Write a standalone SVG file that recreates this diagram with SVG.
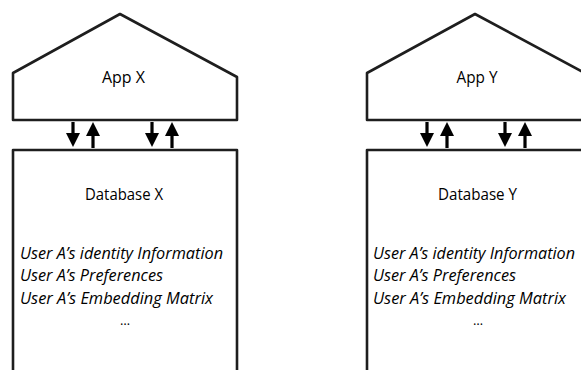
<svg xmlns="http://www.w3.org/2000/svg" width="581" height="370" viewBox="0 0 581 370">
<style>
.shape{fill:#fff;stroke:#1e1e1e;stroke-width:2.6;stroke-linejoin:round}
.t{font-family:"Open Sans","Noto Sans",sans-serif;font-size:16.5px;fill:#000}
.i{font-family:"Open Sans","Noto Sans",sans-serif;font-size:15.5px;font-style:italic;fill:#000}
.d{font-family:"Open Sans","Noto Sans",sans-serif;font-size:13px;fill:#000}
.arr{fill:#000}
</style>
<defs>
<g id="down"><rect x="-1.6" y="0" width="3.2" height="13" class="arr"/><polygon points="-7,11 7,11 0,25" class="arr"/></g>
<g id="up"><polygon points="-7,14 7,14 0,0" class="arr"/><rect x="-1.6" y="12" width="3.2" height="14" class="arr"/></g>
</defs>
<rect width="581" height="370" fill="#fff"/>
<g id="appX">
<path class="shape" d="M13,120 L13,73 L120,14 L237,77 L237,120 Z"/>
<text class="t" x="123.5" y="83" text-anchor="middle" textLength="43" lengthAdjust="spacingAndGlyphs">App X</text>
</g>
<g id="dbX">
<path class="shape" d="M13,372 L13,150 L237,150 L237,372"/>
<text class="t" x="124" y="200" text-anchor="middle" textLength="78" lengthAdjust="spacingAndGlyphs">Database X</text>
<text class="i" x="20" y="259" textLength="203" lengthAdjust="spacingAndGlyphs">User A’s identity Information</text>
<text class="i" x="20" y="281" textLength="143" lengthAdjust="spacingAndGlyphs">User A’s Preferences</text>
<text class="i" x="20" y="304" textLength="193" lengthAdjust="spacingAndGlyphs">User A’s Embedding Matrix</text>
<text class="d" x="125" y="325" text-anchor="middle">…</text>
</g>
<g id="appY">
<path class="shape" d="M367,120 L367,73 L475,14 L592,77 L592,120 Z"/>
<text class="t" x="477" y="83" text-anchor="middle" textLength="41" lengthAdjust="spacingAndGlyphs">App Y</text>
</g>
<g id="dbY">
<path class="shape" d="M367,372 L367,150 L592,150"/>
<text class="t" x="477.5" y="200" text-anchor="middle" textLength="79" lengthAdjust="spacingAndGlyphs">Database Y</text>
<text class="i" x="373" y="259" textLength="202" lengthAdjust="spacingAndGlyphs">User A’s identity Information</text>
<text class="i" x="373" y="281" textLength="143" lengthAdjust="spacingAndGlyphs">User A’s Preferences</text>
<text class="i" x="373" y="304" textLength="193" lengthAdjust="spacingAndGlyphs">User A’s Embedding Matrix</text>
<text class="d" x="478" y="325" text-anchor="middle">…</text>
</g>
<g id="connectors">
<use href="#down" x="73" y="122"/>
<use href="#up" x="93" y="122"/>
<use href="#down" x="152" y="122"/>
<use href="#up" x="172" y="122"/>
<use href="#down" x="427" y="122"/>
<use href="#up" x="447" y="122"/>
<use href="#down" x="505" y="122"/>
<use href="#up" x="525" y="122"/>
</g>
</svg>
